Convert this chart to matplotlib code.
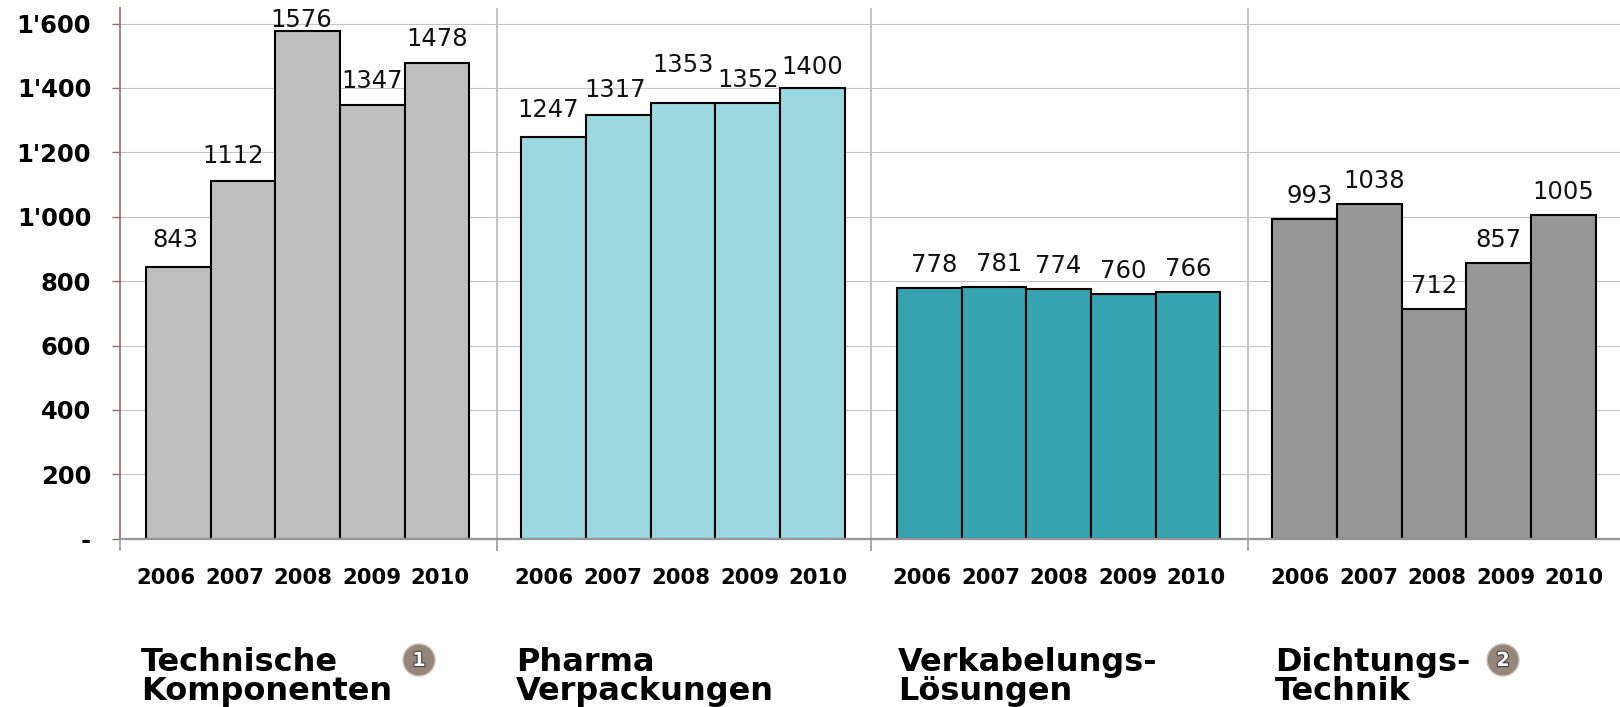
import matplotlib
matplotlib.use("Agg")
import matplotlib.pyplot as plt
import matplotlib.patheffects as pe
from matplotlib.patches import Circle

# Data
years = ["2006", "2007", "2008", "2009", "2010"]
technische = [843, 1112, 1576, 1347, 1478]
pharma = [1247, 1317, 1353, 1352, 1400]
verkabelung = [778, 781, 774, 760, 766]
dichtung = [993, 1038, 712, 857, 1005]
y_ticks = [0, 200, 400, 600, 800, 1000, 1200, 1400, 1600]
y_tick_labels = ["-", "200", "400", "600", "800", "1'000", "1'200", "1'400", "1'600"]
title_lines = [["Technische", "Komponenten"], ["Pharma", "Verpackungen"],
               ["Verkabelungs-", "Lösungen"], ["Dichtungs-", "Technik"]]
badges = [(0, "1"), (3, "2")]

series = [technische, pharma, verkabelung, dichtung]
colors = ["#bfbfbf", "#9bd8e0", "#35a3b0", "#969696"]

# Layout in pixels of the 1620x707 picture
W, H = 1620, 707
AX_LEFT, AX_BOTTOM, AX_TOP = 120, 538.7, 8.3
BAR_PX = 64.7
px = 72 / 100  # one pixel in points

# x axis unit is one bar wide
group_step = 375.5 / BAR_PX
group_pad = 25.8 / BAR_PX

# nudges of the value labels, in pixels
label_dx = [[-3, -10, -6, 0, 0], [-6, -3, 0, 0, 0], [5, 5, 0, 0, 0], [5, 5, 0, 0, 0]]
label_gap = [[20, 17.5, 4.7, 16.5, 16.5], [20, 18, 31, 16, 14], [16, 16, 16, 16, 16], [16, 16, 16, 16, 16]]
title_x = [141, 516, 898, 1275]
badge_x = [419, 1503]

fig = plt.figure(figsize=(W / 100, H / 100), dpi=100)
ax = fig.add_axes([AX_LEFT / W, 1 - AX_BOTTOM / H, (W - AX_LEFT) / W, (AX_BOTTOM - AX_TOP) / H])
ax.set_xlim(0, (W - AX_LEFT) / BAR_PX)
ax.set_ylim(0, (AX_BOTTOM - AX_TOP) / 515.2 * 1600)
ax.set_axisbelow(True)

for g, values in enumerate(series):
    start = g * group_step + group_pad
    xs = [start + i + 0.5 for i in range(len(values))]
    ax.bar(xs, values, width=1.0, color=colors[g], edgecolor="black", linewidth=1.5)

    for i, v in enumerate(values):
        ax.annotate(str(v), (xs[i], v), xytext=(label_dx[g][i] * px, label_gap[g][i] * px),
                    textcoords="offset points", ha="center", va="baseline",
                    fontsize=17.5, color="#111111")

    # year labels are spaced a bit wider than the bars
    center = (g * 378 + 303 - AX_LEFT) / BAR_PX
    for i, year in enumerate(years):
        ax.annotate(year, (center + (i - 2) * 68.6 / BAR_PX, 0), xytext=(0, -45 * px),
                    textcoords="offset points", ha="center", va="baseline",
                    fontsize=15.3, fontweight="bold", color="black")

# separators between the groups
seps = [0, 377 / BAR_PX, 751 / BAR_PX, 1128 / BAR_PX]
for s in seps[1:]:
    ax.axvline(s, color="#c4c4c4", linewidth=1.5, zorder=0.5)

ax.set_xticks(seps)
ax.set_xticklabels([])
ax.tick_params(axis="x", length=12 * px, width=1.4, color="#a8a8a8")
ax.set_yticks(y_ticks)
ax.set_yticklabels(y_tick_labels, fontsize=17.5, fontweight="bold")
ax.tick_params(axis="y", length=8 * px, width=1.0, color="#8c6e6a", pad=15)
ax.grid(axis="y", color="#c4c4c4", linewidth=0.75)

for side in ["top", "right"]:
    ax.spines[side].set_visible(False)
ax.spines["left"].set_color("#8c6e6a")
ax.spines["left"].set_linewidth(1.2)
ax.spines["bottom"].set_color("#969696")
ax.spines["bottom"].set_linewidth(1.6)

# overlay in pixel coordinates for the headings and badges
over = fig.add_axes([0, 0, 1, 1])
over.set_xlim(0, W)
over.set_ylim(H, 0)
over.axis("off")

for g, lines in enumerate(title_lines):
    over.text(title_x[g], 671, lines[0], fontsize=23, fontweight="bold", va="baseline", color="black")
    over.text(title_x[g], 700, lines[1], fontsize=23, fontweight="bold", va="baseline", color="black")

for n, (g, label) in enumerate(badges):
    over.add_patch(Circle((badge_x[n], 660), 16, facecolor="#958679", edgecolor="#c9c0b8", linewidth=1.0))
    over.text(badge_x[n], 660.5, label, fontsize=14, fontweight="bold", color="white", ha="center", va="center",
              path_effects=[pe.withStroke(linewidth=1.5, foreground="#3a3a3a")])

fig.savefig("out.png", dpi=100)
